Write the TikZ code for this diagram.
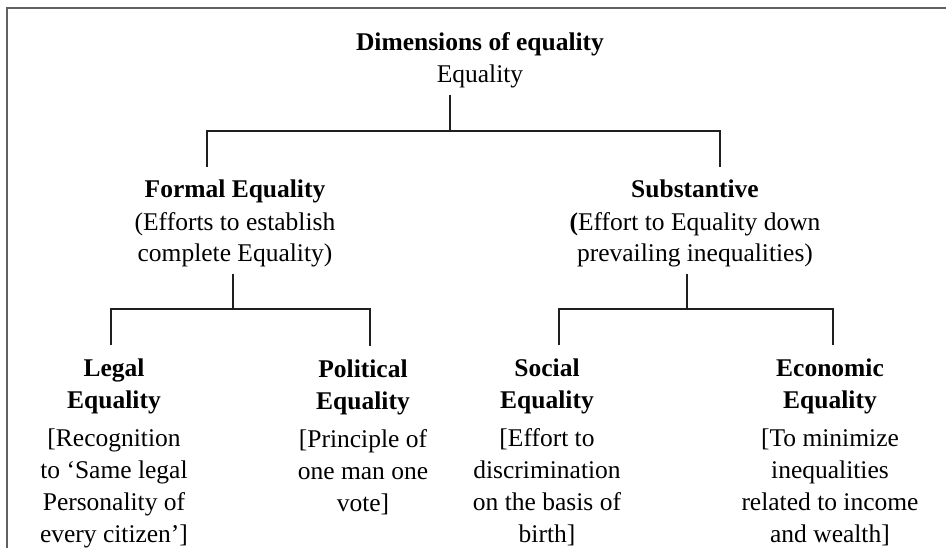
\documentclass[tikz,border=0pt]{standalone}
\usepackage{fontspec}
\setmainfont{Liberation Serif}
\usepackage{tikz}
\usetikzlibrary{calc}

\begin{document}
\begin{tikzpicture}[x=1pt,y=-1pt,
	label/.style={align=center,inner xsep=0pt,inner ysep=6pt,font=\fontsize{25.5}{32}\selectfont},
	branch/.style={line width=2.8pt,color=black!88},
	frame/.style={line width=2pt,color=black!62}]
	\useasboundingbox (0,0) rectangle (946,548);
	\draw[frame] (6,8) -- (946,8);
	\draw[frame] (7,8) -- (7,548);

	\node[label,anchor=base] (root) at (480,83) {\textbf{Dimensions of equality}\\Equality};
	\node[label,anchor=base] (formal) at (235,262) {\textbf{Formal Equality}\\(Efforts to establish\\complete Equality)};
	\node[label,anchor=base] (subst) at (695,262) {\textbf{Substantive}\\\textbf{(}Effort to Equality down\\prevailing inequalities)};

	\node[label,anchor=base] (legal) at (114,542) {\textbf{Legal}\\\textbf{Equality}\\[6pt][Recognition\\to ‘Same legal\\Personality of\\every citizen’]};
	\node[label,anchor=base] (political) at (363,511) {\textbf{Political}\\\textbf{Equality}\\[6pt][Principle of\\one man one\\vote]};
	\node[label,anchor=base] (social) at (547,542) {\textbf{Social}\\\textbf{Equality}\\[6pt][Effort to\\discrimination\\on the basis of\\birth]};
	\node[label,anchor=base] (economic) at (830,542) {\textbf{Economic}\\\textbf{Equality}\\[6pt][To minimize\\inequalities\\related to income\\and wealth]};

	\coordinate (top) at (450,131);
	\coordinate (topl) at (207,131);
	\coordinate (topr) at (720,131);
	\draw[branch] (root.south -| top) -- (top);
	\draw[branch] ([yshift=7pt]formal.north -| topl) |- (topr) -- ([yshift=7pt]subst.north -| topr);

	\coordinate (fj) at (233,309);
	\coordinate (fjl) at (111,309);
	\coordinate (fjr) at (370,309);
	\draw[branch] (formal.south -| fj) -- (fj);
	\draw[branch] ([yshift=7pt]legal.north -| fjl) |- (fjr) -- ([yshift=7pt]political.north -| fjr);

	\coordinate (sj) at (687,309);
	\coordinate (sjl) at (559,309);
	\coordinate (sjr) at (833,309);
	\draw[branch] (subst.south -| sj) -- (sj);
	\draw[branch] ([yshift=7pt]social.north -| sjl) |- (sjr) -- ([yshift=7pt]economic.north -| sjr);
\end{tikzpicture}
\end{document}
